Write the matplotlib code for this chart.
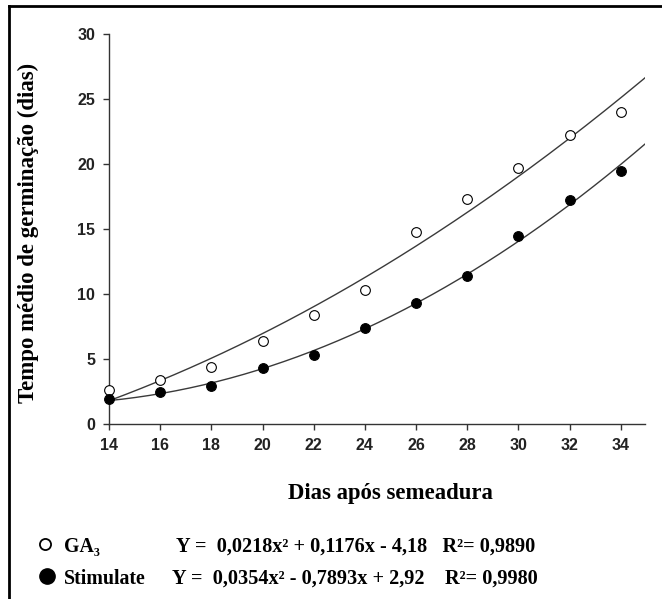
import numpy as np
import matplotlib
matplotlib.use("Agg")
import matplotlib.pyplot as plt
from matplotlib.lines import Line2D

days = [14, 16, 18, 20, 22, 24, 26, 28, 30, 32, 34]
ga3 = [2.6, 3.4, 4.4, 6.4, 8.4, 10.3, 14.8, 17.3, 19.7, 22.2, 24.0]
stimulate = [1.9, 2.5, 2.9, 4.3, 5.3, 7.4, 9.3, 11.4, 14.5, 17.2, 19.5]
yticks = [0, 5, 10, 15, 20, 25, 30]
xticks = [14, 16, 18, 20, 22, 24, 26, 28, 30, 32, 34]
eq_ga3 = "Y =  0,0218x² + 0,1176x - 4,18   R²= 0,9890"
eq_stim = "Y =  0,0354x² - 0,7893x + 2,92    R²= 0,9980"

serif = ["Liberation Serif", "DejaVu Serif"]
sans = ["Liberation Sans Narrow", "Liberation Sans", "DejaVu Sans"]

W, H = 662, 599
fig = plt.figure(figsize=(W / 100, H / 100), dpi=100)
L, R, T, B = 109, 645, 34, 424
ax = fig.add_axes([L / W, 1 - B / H, (R - L) / W, (B - T) / H])

xs = np.linspace(14, 34.95, 200)
for vals in (ga3, stimulate):
    coef = np.polyfit(days, vals, 2)
    ax.plot(xs, np.polyval(coef, xs), color="#3a3a3a", lw=1.0, zorder=2)

ax.plot(days, ga3, "o", mfc="white", mec="black", mew=0.8, ms=7, zorder=3, clip_on=False)
ax.plot(days, stimulate, "o", mfc="black", mec="black", mew=0.8, ms=7, zorder=3, clip_on=False)

ax.set_xlim(14, 34.95)
ax.set_ylim(0, 30)
ax.set_xticks(xticks)
ax.set_yticks(yticks)
for s in ("top", "right"):
    ax.spines[s].set_visible(False)
for s in ("left", "bottom"):
    ax.spines[s].set_color("#333333")
    ax.spines[s].set_linewidth(1.0)
ax.tick_params(direction="out", length=4.5, width=1.0, color="#333333", pad=5.5)
for lab in ax.get_xticklabels() + ax.get_yticklabels():
    lab.set_family(sans)
    lab.set_fontweight("bold")
    lab.set_fontsize(11.5)
    lab.set_color("#222222")

ax.set_ylabel("Tempo médio de germinação (dias)", family=serif, fontweight="bold", fontsize=16.5)
ax.yaxis.set_label_coords(-0.13, 0.49)
ax.set_xlabel("Dias após semeadura", family=serif, fontweight="bold", fontsize=16.4)
ax.xaxis.set_label_coords(0.525, -0.152)

def fx(px):
    return px / W

def fy(py):
    return 1 - py / H

# legend rows
fig.add_artist(Line2D([fx(45)], [fy(544)], marker="o", ms=8, mfc="white", mec="black", mew=1.3, ls="none"))
fig.add_artist(Line2D([fx(47)], [fy(576)], marker="o", ms=11, mfc="black", mec="black", mew=1.0, ls="none"))
fig.text(fx(64), fy(547), "GA₃", family=serif, fontweight="bold", fontsize=14.3, va="center", ha="left")
fig.text(fx(64), fy(579), "Stimulate", family=serif, fontweight="bold", fontsize=14.3, va="center", ha="left")
fig.text(fx(176), fy(547), eq_ga3, family=serif, fontweight="bold", fontsize=14.6, va="center", ha="left")
fig.text(fx(172), fy(579), eq_stim, family=serif, fontweight="bold", fontsize=14.6, va="center", ha="left")

# outer frame (top and left)
fig.add_artist(Line2D([fx(9), 1.0], [fy(6), fy(6)], color="black", lw=2.0))
fig.add_artist(Line2D([fx(9), fx(9)], [fy(6), 0.0], color="black", lw=2.0))

fig.savefig("out.png", dpi=100)
